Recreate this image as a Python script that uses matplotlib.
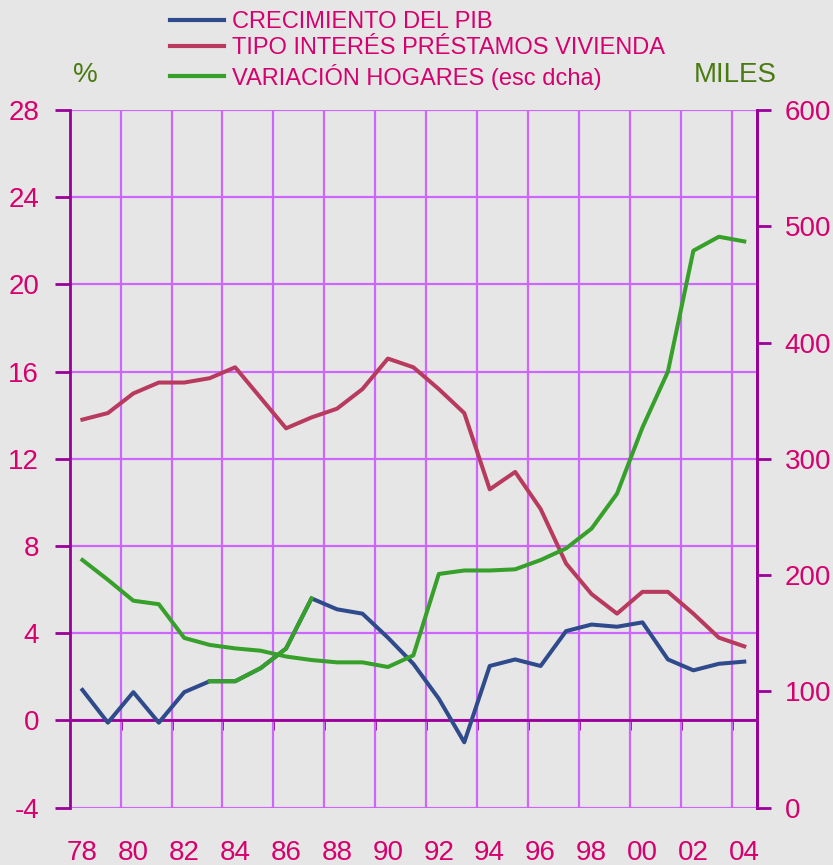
import matplotlib
matplotlib.use("Agg")
import matplotlib.pyplot as plt
from matplotlib.lines import Line2D

plt.rcParams['font.family'] = ['Liberation Sans', 'DejaVu Sans']
plt.rcParams['axes.unicode_minus'] = False

# years 1978 - 2004
years = list(range(1978, 2005))
year_labels = ['78', '80', '82', '84', '86', '88', '90', '92', '94', '96', '98', '00', '02', '04']

# crecimiento del PIB (%)
pib = [1.4, -0.1, 1.3, -0.1, 1.3, 1.8, 1.8, 2.4, 3.3, 5.6, 5.1, 4.9, 3.8, 2.6,
       1.0, -1.0, 2.5, 2.8, 2.5, 4.1, 4.4, 4.3, 4.5, 2.8, 2.3, 2.6, 2.7]

# tipo de interes prestamos vivienda (%)
tipo = [13.8, 14.1, 15.0, 15.5, 15.5, 15.7, 16.2, 14.8, 13.4, 13.9, 14.3, 15.2, 16.6, 16.2,
        15.2, 14.1, 10.6, 11.4, 9.7, 7.2, 5.8, 4.9, 5.9, 5.9, 4.9, 3.8, 3.4]

# variacion hogares (miles, escala derecha)
hogares = [213, 196, 178, 175, 146, 140, 137, 135, 130, 127, 125, 125, 121, 131,
           201, 204, 204, 205, 213, 223, 240, 270, 327, 375, 479, 491, 487]

labels = ['CRECIMIENTO DEL PIB', 'TIPO INTERÉS PRÉSTAMOS VIVIENDA', 'VARIACIÓN HOGARES (esc dcha)']

c_blue = '#2f4b8c'
c_red = '#b83a5e'
c_green = '#36a02a'
c_grid = '#cc66ff'
c_axis = '#990099'
c_text = '#d6006e'
c_olive = '#4a7a12'
bg = '#e6e6e6'

fig = plt.figure(figsize=(8.33, 8.65), dpi=100, facecolor=bg)
ax = fig.add_axes([69.7 / 833, 1 - 807.7 / 865, (757 - 69.7) / 833, (807.7 - 110) / 865])
ax.set_facecolor(bg)

ax.set_xlim(1977.5, 2004.5)
ax.set_ylim(-4, 28)
ax.set_yticks(range(-4, 29, 4))
ax.set_xticks(years[::2])
ax.set_xticklabels(year_labels)
ax.set_xticks([y + 0.5 for y in years[1::2]], minor=True)

ax.grid(True, which='minor', axis='x', color=c_grid, lw=1.6)
ax.grid(True, which='major', axis='y', color=c_grid, lw=1.6)
ax.set_axisbelow(True)

for s in ['top', 'bottom']:
    ax.spines[s].set_visible(False)
for s in ['left', 'right']:
    ax.spines[s].set_color(c_axis)
    ax.spines[s].set_linewidth(2)

ax.tick_params(axis='x', which='both', length=0, pad=23, labelsize=20, labelcolor=c_text)
ax.tick_params(axis='y', length=11, width=2, color=c_axis, pad=11, labelsize=20, labelcolor=c_text)

# zero line with ticks
ax.axhline(0, color=c_axis, lw=2, zorder=2)
sec = ax.secondary_xaxis(4 / 32)
sec.set_xticks([y + 0.5 for y in years[1::2]])
sec.set_xticklabels([])
sec.tick_params(length=7, width=2, color=c_axis, direction='out')
sec.spines['bottom'].set_visible(False)

ax.plot(years, tipo, color=c_red, lw=2.9, zorder=3)
ax.plot(years, pib, color=c_blue, lw=2.9, zorder=3)
ax.plot(years[5:10], pib[5:10], color=c_green, lw=2.9, zorder=3)

ax2 = ax.twinx()
ax2.set_ylim(0, 600)
ax2.set_yticks(range(0, 601, 100))
for s in ['top', 'bottom', 'left']:
    ax2.spines[s].set_visible(False)
ax2.spines['right'].set_color(c_axis)
ax2.spines['right'].set_linewidth(2)
ax2.tick_params(axis='y', length=10, width=2, color=c_axis, pad=10, labelsize=20, labelcolor=c_text)
ax2.plot(years, hogares, color=c_green, lw=2.9)

handles = [Line2D([], [], color=c, lw=3) for c in (c_blue, c_red, c_green)]
fig.legend(handles, labels, loc='upper left', bbox_to_anchor=(170 / 833, 1 - 11 / 865),
           frameon=False, fontsize=17, handlelength=2.29, handletextpad=0.33,
           labelspacing=0.18, labelcolor=c_text, borderaxespad=0, borderpad=0)

fig.text(85 / 833, 1 - 75 / 865, '%', fontsize=20, color=c_olive, ha='center', va='center')
fig.text(735 / 833, 1 - 75 / 865, 'MILES', fontsize=20, color=c_olive, ha='center', va='center')

fig.savefig('out.png', dpi=100, facecolor=bg)
